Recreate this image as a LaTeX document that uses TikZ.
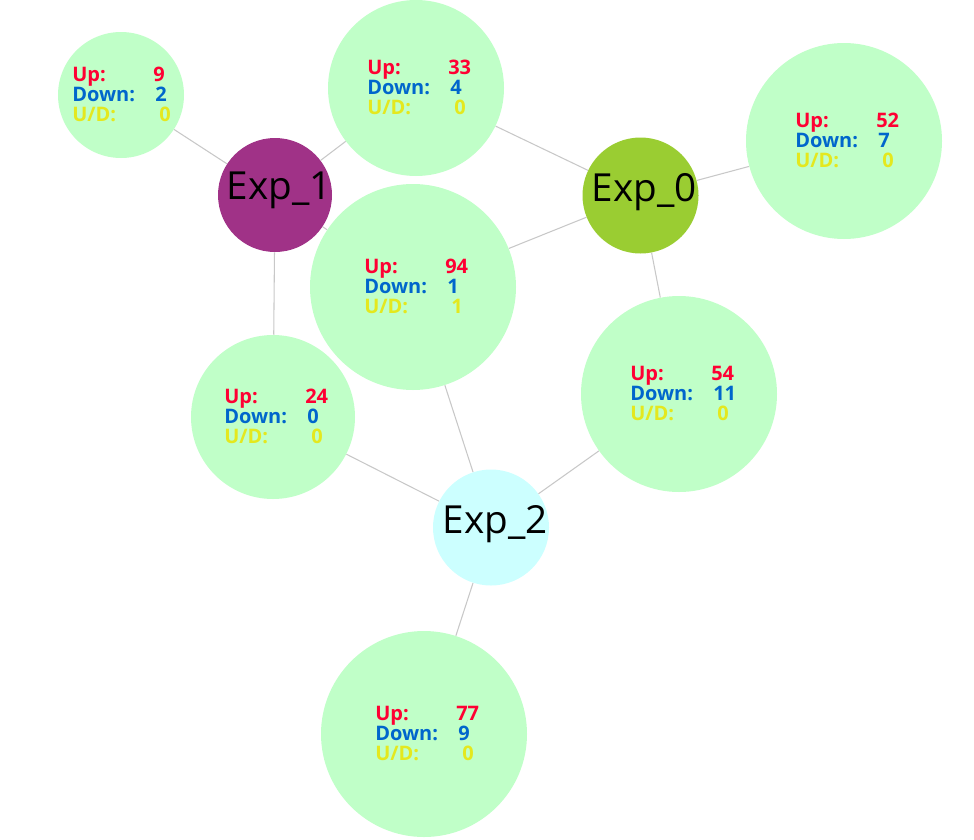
\documentclass[tikz,border=0pt]{standalone}
\usepackage{fontspec}
\setmainfont{Open Sans}
\usetikzlibrary{backgrounds}
\definecolor{nodegreen}{RGB}{192,255,200}
\definecolor{exppurple}{RGB}{160,50,135}
\definecolor{expgreen}{RGB}{154,205,50}
\definecolor{expcyan}{RGB}{204,255,255}
\definecolor{upred}{RGB}{255,0,51}
\definecolor{downblue}{RGB}{0,102,204}
\definecolor{udyellow}{RGB}{228,232,30}
\definecolor{edgegray}{RGB}{200,200,200}
\tikzset{
  bubble/.style={circle, fill=nodegreen, inner sep=0pt, minimum size={1.5pt*#1}},
  expnode/.style={circle, inner sep=0pt, minimum size={1.5pt*#1}},
  link/.style={draw=edgegray, line width=0.8pt},
  stattxt/.style={font=\bfseries\fontsize{15}{18}\selectfont, anchor=base west, inner sep=0pt},
  explabel/.style={font=\fontsize{29}{34}\selectfont, anchor=base, inner sep=0pt, text=black}
}
\newcommand{\statblock}[4]{%
  \node[stattxt, text=upred] (#1-ul) at ([shift={(-49,-14)}]#1.center) {Up:};
  \node[stattxt, text=upred] (#1-uv) at ([shift={(32,-14)}]#1.center) {#2};
  \node[stattxt, text=downblue] (#1-dl) at ([shift={(-49,6)}]#1.center) {Down:};
  \node[stattxt, text=downblue] (#1-dv) at ([shift={(34,6)}]#1.center) {#3};
  \node[stattxt, text=udyellow] (#1-xl) at ([shift={(-49,26)}]#1.center) {U/D:};
  \node[stattxt, text=udyellow] (#1-xv) at ([shift={(38,26)}]#1.center) {#4};
}
\begin{document}
\begin{tikzpicture}[x=0.75pt,y=-0.75pt]
\useasboundingbox (0,0) rectangle (974,839);
% experiment nodes
\node[expnode=57, fill=exppurple] (e1) at (275,195) {};
\node[expnode=58, fill=expgreen] (e0) at (640.5,195.5) {};
\node[expnode=58, fill=expcyan] (e2) at (491,527.5) {};
\node[explabel] (e1t) at (279,199) {Exp\_1};
\node[explabel] (e0t) at (644,201) {Exp\_0};
\node[explabel] (e2t) at (495,533) {Exp\_2};
% stat nodes
\node[bubble=63] (a) at (121,95) {};
\node[bubble=88] (b) at (416,88) {};
\node[bubble=98] (c) at (844,141) {};
\node[bubble=103] (d) at (413,287) {};
\node[bubble=82] (e) at (273,417) {};
\node[bubble=98] (f) at (679,394) {};
\node[bubble=103] (g) at (424,734) {};
\statblock{a}{9}{2}{0}
\statblock{b}{33}{4}{0}
\statblock{c}{52}{7}{0}
\statblock{d}{94}{1}{1}
\statblock{e}{24}{0}{0}
\statblock{f}{54}{11}{0}
\statblock{g}{77}{9}{0}
\begin{scope}[on background layer]
\draw[link] (a) -- (e1);
\draw[link] (b) -- (e1);
\draw[link] (b) -- (e0);
\draw[link] (c) -- (e0);
\draw[link] (d) -- (e0);
\draw[link] (d) -- (e1);
\draw[link] (e1) -- (e);
\draw[link] (e) -- (e2);
\draw[link] (d) -- (e2);
\draw[link] (f) -- (e2);
\draw[link] (f) -- (e0);
\draw[link] (g) -- (e2);
\end{scope}
\end{tikzpicture}
\end{document}
